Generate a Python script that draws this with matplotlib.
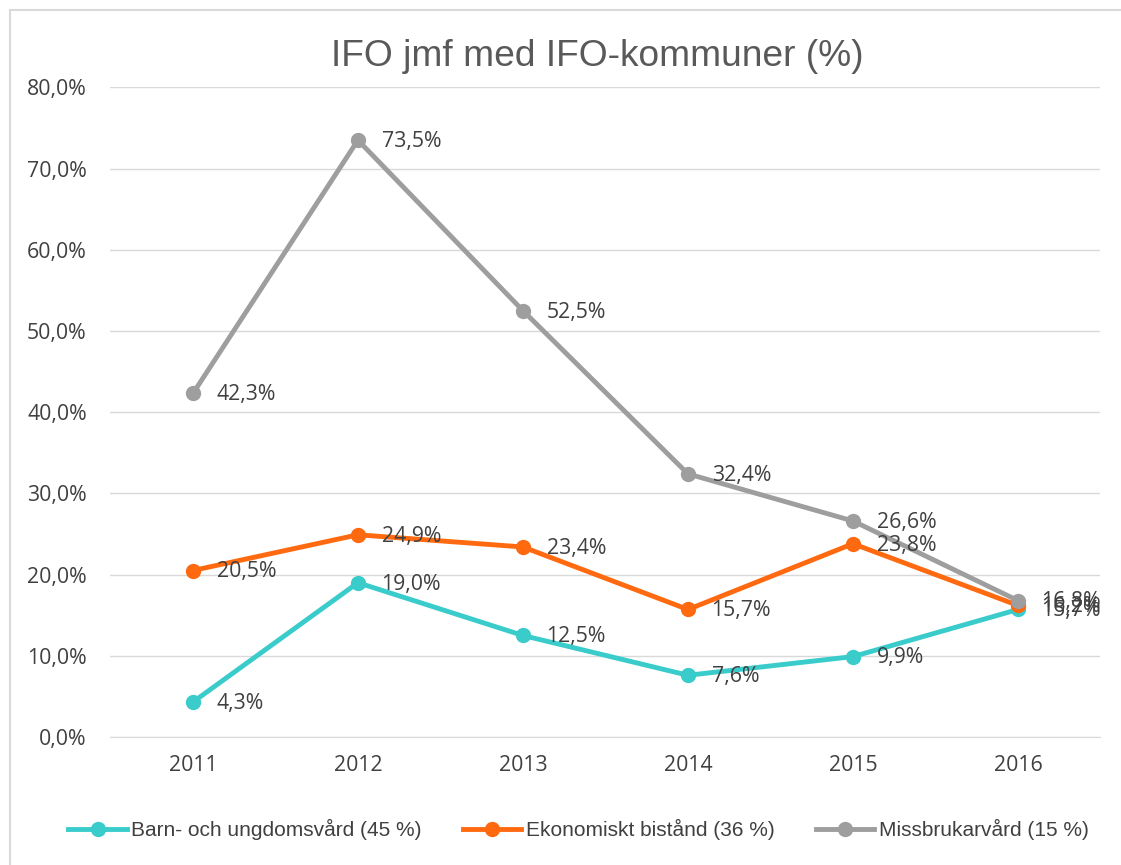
import matplotlib
matplotlib.use('Agg')
import matplotlib.pyplot as plt
from matplotlib.patches import Rectangle

# data
years = ['2011', '2012', '2013', '2014', '2015', '2016']
barn = [4.3, 19.0, 12.5, 7.6, 9.9, 15.7]
ekonomi = [20.5, 24.9, 23.4, 15.7, 23.8, 16.2]
missbruk = [42.3, 73.5, 52.5, 32.4, 26.6, 16.8]
series_names = ['Barn- och ungdomsvård (45 %)', 'Ekonomiskt bistånd (36 %)', 'Missbrukarvård (15 %)']
colors = ['#3ACBCB', '#FF6A10', '#9E9E9E']
yticks = [0, 10, 20, 30, 40, 50, 60, 70, 80]

plt.rcParams['font.family'] = ['Open Sans', 'DejaVu Sans']

fig = plt.figure(figsize=(11.21, 8.65), dpi=100)
fig.patches.append(Rectangle((10 / 1121, -0.01), 1.02, 1 - 10 / 865 + 0.01,
                             transform=fig.transFigure, fill=False,
                             edgecolor='#D9D9D9', linewidth=1.5))
ax = fig.add_axes([0.0985, 0.148, 0.8832, 0.751])

x = list(range(len(years)))
for vals, name, c in zip([barn, ekonomi, missbruk], series_names, colors):
    ax.plot(x, vals, color=c, linewidth=3.5, marker='o', markersize=10,
            label=name, zorder=3)
    for xi, v in zip(x, vals):
        ax.annotate(f'{v:.1f}%'.replace('.', ','), (xi, v), xytext=(17, -1),
                    textcoords='offset points', ha='left', va='center',
                    fontsize=15.3, color='#404040', zorder=4)

ax.set_xlim(-0.5, 5.5)
ax.set_ylim(0, 80)
ax.set_xticks(x)
ax.set_xticklabels(years)
ax.set_yticks(yticks)
ax.set_yticklabels([f'{t:.1f}%'.replace('.', ',') for t in yticks])
ax.tick_params(axis='both', length=0, labelsize=15.3, colors='#404040')
ax.tick_params(axis='x', pad=13)
ax.tick_params(axis='y', pad=17)
ax.grid(axis='y', color='#D9D9D9', linewidth=1)
ax.set_axisbelow(True)
for s in ['top', 'right', 'left']:
    ax.spines[s].set_visible(False)
ax.spines['bottom'].set_color('#D9D9D9')

fig.text(0.533, 0.935, 'IFO jmf med IFO-kommuner (%)', ha='center', va='center',
         fontsize=26.7, color='#595959', family=['Liberation Sans', 'DejaVu Sans'])

leg = fig.legend(loc='center', bbox_to_anchor=(0.516, 0.041), ncol=3, frameon=False,
                 handlelength=2.8, columnspacing=2.0, handletextpad=0.2,
                 prop={'family': ['Liberation Sans', 'DejaVu Sans'], 'size': 15})
for t in leg.get_texts():
    t.set_color('#404040')

fig.savefig('out.png', dpi=100)
